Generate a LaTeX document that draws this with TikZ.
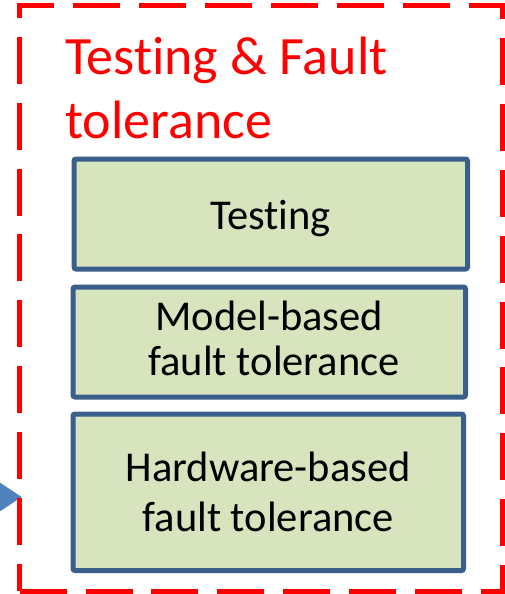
\documentclass[tikz,border=0pt]{standalone}
\usepackage{fontspec}
\setmainfont{Carlito}[Ligatures=NoCommon]
\usetikzlibrary{arrows.meta}
\definecolor{framered}{HTML}{FF0000}
\definecolor{boxfill}{HTML}{D7E4BD}
\definecolor{boxline}{HTML}{3A5F8B}
\definecolor{arrowblue}{HTML}{4F81BD}
\begin{document}
\begin{tikzpicture}[x=1pt,y=-1pt,
  frame/.style={draw=framered, line width=5pt, dash pattern=on 47pt off 18.9pt,
    dash phase=19.9pt, line join=miter},
  layer/.style={draw=boxline, fill=boxfill, line width=5pt, rounded corners=2pt,
    inner sep=0pt, align=center, text=black, font=\fontsize{42.5}{50}\selectfont},
  heading/.style={inner sep=0pt, align=left, text=framered,
    font=\fontsize{54}{64}\selectfont},
  feeder/.style={draw=arrowblue, line width=10pt,
    -{Triangle[length=30pt,width=37pt]}}]
\useasboundingbox (0,0) rectangle (504,594);

% incoming arrow from the left
\coordinate (feed) at (-40,497);
\coordinate (entry) at (22,497);
\draw[feeder] (feed) -- (entry);

% dashed group frame
\coordinate (fsw) at (19.5,591);
\coordinate (fnw) at (19.5,5.5);
\coordinate (fne) at (502,5.5);
\coordinate (fse) at (502,591);
\draw[frame] (fsw) -- (fnw) -- (fne) -- (fse) -- cycle;

% group heading (base anchor sits on the last line)
\node[heading, anchor=base west] (heading) at (65,138) {Testing \& Fault\\tolerance};

% stacked layers
\node[layer, minimum width=393.5pt, minimum height=110pt,
  text height=35pt, text depth=5pt] (testing) at (270.75,214) {Testing};
\node[layer, minimum width=392.5pt, minimum height=110pt,
  font=\fontsize{42.5}{45}\selectfont, text height=76pt, text depth=10pt]
  (model) at (269.25,342) {Model-based\\\null\ fault tolerance};
\node[layer, minimum width=390.5pt, minimum height=156.5pt,
  text height=89pt, text depth=10pt]
  (hardware) at (268.25,492.25) {Hardware-based\\fault tolerance};
\end{tikzpicture}
\end{document}
